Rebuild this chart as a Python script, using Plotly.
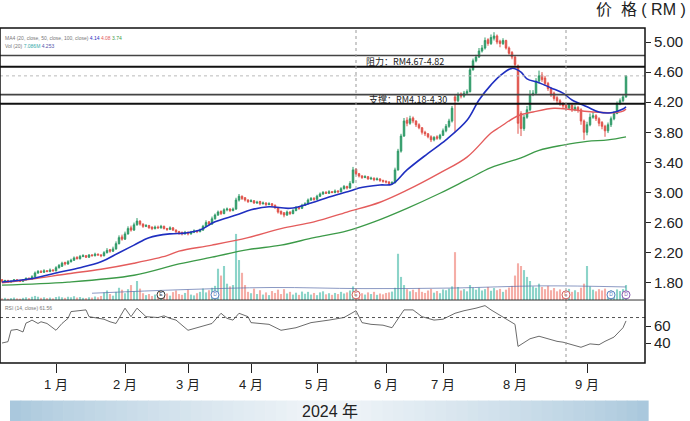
import plotly.graph_objects as go

# ---------------- data ----------------
open_ = [1.84,1.82,1.83,1.81,1.82,1.84,1.83,1.82,1.84,1.86,1.85,
         1.88,1.93,1.95,1.94,1.96,1.95,1.97,1.96,2.00,2.02,
         2.07,2.05,2.08,2.10,2.14,2.12,2.15,2.16,2.14,2.17,
         2.16,2.18,2.17,2.16,2.20,2.24,2.22,2.25,2.32,2.41,
         2.38,2.45,2.53,2.50,2.57,2.62,2.58,2.55,2.56,2.54,
         2.52,2.54,2.53,2.55,2.52,2.51,2.53,2.50,2.48,2.47,
         2.45,2.47,2.45,2.47,2.49,2.48,2.50,2.55,2.61,2.58,
         2.65,2.70,2.75,2.72,2.77,2.78,2.76,2.78,2.90,2.95,
         2.93,2.90,2.88,2.89,2.86,2.88,2.85,2.86,2.84,2.85,
         2.83,2.80,2.75,2.73,2.70,2.74,2.72,2.76,2.80,2.79,
         2.83,2.85,2.90,2.92,2.91,2.95,2.98,3.00,2.99,3.01,
         3.00,3.02,3.01,3.05,3.08,3.06,3.13,3.31,3.25,3.22,
         3.20,3.21,3.18,3.19,3.17,3.18,3.16,3.15,3.14,3.12,
         3.13,3.30,3.55,3.75,3.96,3.92,3.99,3.95,3.90,3.86,
         3.80,3.78,3.74,3.70,3.74,3.72,3.76,3.82,3.88,3.95,
         4.27,4.22,4.31,4.28,4.32,4.34,4.63,4.75,4.80,4.88,
         4.92,5.03,4.98,5.05,5.08,5.01,4.98,5.02,4.92,4.86,
         4.80,4.68,4.05,3.85,4.00,4.10,4.30,4.32,4.48,4.56,
         4.52,4.45,4.38,4.32,4.26,4.22,4.18,4.16,4.12,4.16,
         4.10,4.13,4.10,3.95,3.80,3.90,4.00,4.02,3.98,3.93,
         3.88,3.82,3.90,3.98,4.05,4.18,4.22,4.27]
high_ = [1.85,1.84,1.84,1.83,1.85,1.85,1.84,1.85,1.87,1.87,1.90,
         1.95,1.97,1.97,1.98,1.97,1.99,1.98,2.02,2.05,2.08,
         2.08,2.10,2.12,2.15,2.15,2.17,2.18,2.17,2.18,2.18,
         2.20,2.19,2.18,2.22,2.26,2.25,2.28,2.35,2.43,2.44,
         2.48,2.55,2.56,2.60,2.66,2.63,2.59,2.58,2.57,2.55,
         2.56,2.56,2.57,2.56,2.53,2.55,2.54,2.51,2.49,2.48,
         2.49,2.48,2.49,2.51,2.50,2.52,2.57,2.63,2.62,2.68,
         2.72,2.76,2.76,2.79,2.80,2.79,2.80,2.93,2.98,2.96,
         2.94,2.91,2.91,2.90,2.89,2.89,2.88,2.87,2.87,2.86,
         2.84,2.81,2.76,2.74,2.76,2.75,2.78,2.82,2.82,2.85,
         2.87,2.92,2.94,2.94,2.97,3.00,3.02,3.02,3.03,3.02,
         3.04,3.03,3.07,3.10,3.09,3.15,3.34,3.32,3.26,3.23,
         3.23,3.22,3.21,3.20,3.20,3.19,3.17,3.16,3.15,3.15,
         3.33,3.58,3.78,3.99,4.00,4.02,4.01,3.96,3.92,3.87,
         3.82,3.79,3.76,3.75,3.76,3.78,3.85,3.91,3.98,4.15,
         4.30,4.33,4.33,4.35,4.37,4.66,4.78,4.83,4.92,4.96,
         5.06,5.05,5.10,5.13,5.10,5.03,5.05,5.03,4.94,4.88,
         4.82,4.70,4.08,4.03,4.15,4.36,4.36,4.52,4.62,4.60,
         4.55,4.47,4.40,4.34,4.28,4.24,4.20,4.18,4.19,4.17,
         4.16,4.15,4.12,3.97,3.94,4.05,4.07,4.04,4.00,3.95,
         3.90,3.93,4.01,4.08,4.21,4.25,4.30,4.56]
low_ = [1.80,1.81,1.80,1.80,1.81,1.82,1.81,1.81,1.83,1.84,1.84,
        1.87,1.92,1.93,1.93,1.94,1.94,1.95,1.95,1.99,2.01,
        2.03,2.04,2.07,2.09,2.11,2.11,2.14,2.13,2.13,2.15,
        2.15,2.16,2.14,2.15,2.19,2.20,2.21,2.24,2.31,2.36,
        2.37,2.44,2.48,2.49,2.56,2.56,2.53,2.54,2.52,2.50,
        2.51,2.52,2.52,2.51,2.49,2.50,2.49,2.46,2.44,2.43,
        2.44,2.43,2.44,2.46,2.46,2.47,2.49,2.54,2.56,2.57,
        2.64,2.69,2.70,2.71,2.75,2.74,2.75,2.77,2.88,2.90,
        2.88,2.86,2.87,2.85,2.85,2.83,2.84,2.82,2.83,2.81,
        2.78,2.72,2.70,2.67,2.69,2.70,2.71,2.75,2.77,2.78,
        2.82,2.84,2.89,2.89,2.90,2.94,2.97,2.98,2.98,2.99,
        2.99,2.99,3.00,3.04,3.04,3.05,3.12,3.23,3.20,3.18,
        3.19,3.17,3.17,3.15,3.16,3.14,3.13,3.12,3.10,3.11,
        3.12,3.29,3.53,3.74,3.88,3.90,3.92,3.87,3.84,3.77,
        3.75,3.72,3.67,3.68,3.70,3.70,3.75,3.80,3.86,3.93,
        3.80,4.20,4.25,4.26,4.30,4.33,4.62,4.73,4.79,4.86,
        4.90,4.95,4.96,5.02,4.97,4.93,4.96,4.90,4.83,4.77,
        4.66,3.78,3.75,3.82,3.98,4.08,4.28,4.30,4.45,4.47,
        4.42,4.35,4.27,4.22,4.18,4.15,4.12,4.09,4.10,4.07,
        4.08,4.06,3.90,3.70,3.76,3.88,3.98,3.95,3.88,3.84,
        3.74,3.79,3.87,3.96,4.04,4.16,4.20,4.26]
close_ = [1.82,1.83,1.81,1.82,1.84,1.83,1.82,1.84,1.86,1.85,1.88,
          1.93,1.95,1.94,1.96,1.95,1.97,1.96,2.00,2.03,2.06,
          2.05,2.08,2.10,2.13,2.12,2.15,2.16,2.14,2.17,2.16,
          2.18,2.17,2.16,2.20,2.23,2.22,2.25,2.32,2.40,2.38,
          2.45,2.52,2.50,2.57,2.62,2.58,2.55,2.56,2.53,2.52,
          2.54,2.53,2.55,2.52,2.51,2.53,2.50,2.48,2.46,2.45,
          2.47,2.45,2.47,2.49,2.48,2.50,2.55,2.60,2.58,2.65,
          2.70,2.74,2.72,2.77,2.78,2.76,2.78,2.90,2.95,2.92,
          2.90,2.88,2.89,2.86,2.87,2.85,2.86,2.84,2.85,2.83,
          2.80,2.74,2.72,2.70,2.74,2.72,2.76,2.80,2.79,2.83,
          2.85,2.90,2.92,2.91,2.95,2.98,3.00,2.99,3.01,3.00,
          3.02,3.01,3.05,3.08,3.06,3.12,3.30,3.25,3.22,3.20,
          3.21,3.18,3.19,3.17,3.18,3.16,3.15,3.14,3.12,3.13,
          3.30,3.55,3.75,3.95,3.92,3.98,3.95,3.90,3.86,3.80,
          3.78,3.74,3.70,3.73,3.72,3.76,3.82,3.88,3.95,4.12,
          4.22,4.30,4.28,4.32,4.34,4.63,4.75,4.80,4.88,4.92,
          5.02,4.98,5.06,5.08,5.00,4.98,5.02,4.92,4.85,4.80,
          4.70,3.92,3.85,4.00,4.10,4.30,4.32,4.48,4.55,4.50,
          4.45,4.38,4.30,4.25,4.22,4.18,4.15,4.12,4.16,4.10,
          4.13,4.10,3.95,3.80,3.90,4.00,4.02,3.98,3.92,3.88,
          3.82,3.90,3.98,4.05,4.18,4.22,4.27,4.55]
volume = [0.6,0.8,0.5,0.7,0.9,0.6,0.5,0.8,1.0,0.7,1.2,
          1.5,1.2,0.8,1.0,0.7,0.9,0.6,1.1,1.3,1.0,
          0.8,1.2,1.0,1.4,0.9,1.1,0.8,0.7,1.0,0.9,
          1.3,1.0,1.5,2.8,3.5,2.2,1.6,3.0,4.5,3.8,
          2.5,4.0,5.5,3.2,7.0,4.2,2.5,1.8,2.2,1.5,
          2.0,1.4,3.0,1.8,2.4,1.6,2.9,3.5,2.2,1.9,
          2.6,3.8,2.0,1.7,2.5,3.0,4.2,2.8,3.6,4.5,
          5.2,11.5,9.0,12.5,6.0,5.0,5.5,24.3,14.7,10.0,
          5.5,3.0,2.5,4.2,2.2,3.6,2.0,2.8,1.8,3.3,
          2.6,3.8,2.2,4.0,2.4,3.0,2.0,2.7,1.9,3.1,
          2.3,3.0,2.0,2.6,1.8,2.8,3.2,2.1,2.5,1.9,
          2.6,2.2,3.0,2.4,2.8,3.5,5.0,4.2,3.0,2.5,
          2.0,2.8,2.2,3.0,1.9,2.4,2.1,2.6,2.8,3.1,
          4.5,17.0,8.5,5.5,4.0,3.2,3.8,2.9,4.4,3.0,
          2.6,3.5,4.1,2.7,3.3,2.5,3.9,3.6,4.2,5.0,
          17.6,4.8,3.5,4.0,3.2,5.5,4.5,3.8,4.6,3.5,
          4.0,4.8,3.4,4.4,3.6,4.1,3.0,3.8,4.6,5.2,
          9.0,13.5,12.5,11.0,8.5,7.0,5.0,4.5,6.0,4.8,
          4.0,5.2,3.6,4.4,3.2,3.9,2.8,3.5,4.1,3.0,
          3.6,2.9,4.5,6.0,12.5,5.0,3.8,3.2,4.0,3.5,
          4.2,3.0,3.6,2.8,3.9,3.3,4.0,5.5]

# moving averages (index, value)
ma20_idx = [0, 9, 19, 26, 33, 39, 44, 49, 56, 61, 66, 71, 78, 83, 89, 96, 103, 109,
            116, 119, 126, 130, 135, 142, 148, 155, 159, 163, 166, 170, 173, 175,
            179, 183, 187, 190, 195, 199, 203, 207, 208]
ma20 = [1.81, 1.85, 1.94, 2.00, 2.08, 2.20, 2.30, 2.40, 2.45, 2.46, 2.50, 2.61,
        2.70, 2.77, 2.81, 2.79, 2.86, 2.94, 3.02, 3.06, 3.10, 3.11, 3.30, 3.52,
        3.70, 3.96, 4.23, 4.43, 4.55, 4.65, 4.60, 4.51, 4.46, 4.39, 4.32, 4.23,
        4.14, 4.07, 4.06, 4.11, 4.14]
ma50_idx = [0, 10, 22, 33, 44, 55, 59, 70, 82, 93, 104, 115, 126, 135, 146, 155,
            163, 166, 172, 177, 184, 190, 197, 204, 207, 208]
ma50 = [1.80, 1.85, 1.92, 1.98, 2.06, 2.16, 2.22, 2.30, 2.40, 2.52, 2.61, 2.74,
        2.87, 3.03, 3.26, 3.47, 3.79, 3.87, 4.02, 4.07, 4.12, 4.10, 4.07, 4.06,
        4.08, 4.11]
ma100_idx = [0, 22, 44, 59, 70, 82, 93, 104, 115, 124, 135, 146, 155, 163, 173,
             179, 187, 195, 202, 208]
ma100 = [1.77, 1.81, 1.90, 2.05, 2.14, 2.24, 2.30, 2.40, 2.49, 2.61, 2.79, 2.99,
         3.17, 3.33, 3.46, 3.56, 3.63, 3.68, 3.70, 3.74]
volma_idx = [30, 60, 90, 120, 150, 180, 208]
volma = [2.5, 3.8, 4.6, 4.2, 4.4, 5.2, 4.8]

rsi_idx = [0, 2, 3, 5, 7, 8, 9, 10, 12, 13, 15, 17, 18, 20, 22, 23, 26, 28, 29, 32,
           34, 36, 38, 41, 43, 45, 48, 52, 54, 56, 58, 62, 64, 66, 68, 70, 73, 75,
           77, 79, 82, 83, 89, 93, 98, 103, 109, 114, 118, 120, 123, 127, 130, 134,
           137, 140, 144, 147, 151, 154, 158, 161, 163, 166, 169, 171, 172, 176,
           179, 182, 185, 187, 190, 193, 196, 199, 201, 204, 207, 208]
rsi = [40, 41.6, 55, 56, 53, 63.5, 65, 67, 63, 65, 63, 57, 55, 63, 69, 77, 78, 79,
       71, 69, 68, 65, 63, 81, 71, 81, 71, 70, 72, 69, 67, 55, 57, 59, 61, 63, 75,
       69, 67, 75, 71, 64, 62, 55, 58, 64, 67, 70, 78, 64, 62, 61, 58, 79, 79, 71,
       67, 68, 75, 78, 81, 84, 79, 73, 67, 62, 36, 45, 48, 45, 42, 41, 38, 35, 39,
       38, 42, 47, 58, 66]

month_idx = [18, 41, 62, 83, 105, 128, 147, 171, 195]
month_labels = ["1 月", "2 月", "3 月", "4 月", "5 月", "6 月", "7 月", "8 月", "9 月"]
price_ticks = [1.80, 2.20, 2.60, 3.00, 3.40, 3.80, 4.20, 4.60, 5.00]
rsi_ticks = [40, 60]
resistance = [4.67, 4.82]
support = [4.18, 4.30]
event_idx = [118, 188]
marker_idx = [53, 71, 118, 188, 203, 208]
marker_text = ["E", "D", "E", "E", "D", "D"]
marker_cols = ["#333333", "#5a7fc0", "#d06060", "#d06060", "#5a7fc0", "#8a5ab0"]

# ---------------- styling ----------------
GREEN = "#2f9a68"
RED = "#e0534b"
VOL_UP = "rgba(95,195,180,0.72)"
VOL_DN = "rgba(240,135,125,0.68)"
idx = list(range(len(close_)))
vol_colors = [VOL_UP if c >= o else VOL_DN for o, c in zip(open_, close_)]
FONT = "Liberation Sans, Noto Sans CJK SC"
CJK = "Noto Sans CJK SC"

fig = go.Figure()
fig.add_trace(go.Bar(x=idx, y=volume, marker=dict(color=vol_colors, line=dict(width=0)),
                     width=0.7, xaxis="x", yaxis="y", hoverinfo="skip"))
fig.add_trace(go.Scatter(x=volma_idx, y=volma, mode="lines", xaxis="x", yaxis="y",
                         line=dict(color="rgba(90,110,170,0.7)", width=1, shape="spline")))
fig.add_trace(go.Scatter(x=marker_idx, y=[1.9] * len(marker_idx), mode="markers+text",
                         xaxis="x", yaxis="y", text=marker_text, textposition="middle center",
                         textfont=dict(size=5, color=marker_cols, family="Liberation Sans"),
                         marker=dict(symbol="circle", size=8, color="white",
                                     line=dict(color=marker_cols, width=1))))
fig.add_trace(go.Candlestick(x=idx, open=open_, high=high_, low=low_, close=close_,
                             xaxis="x", yaxis="y3", whiskerwidth=0,
                             increasing=dict(line=dict(color=GREEN, width=1), fillcolor=GREEN),
                             decreasing=dict(line=dict(color=RED, width=1), fillcolor=RED)))
fig.add_trace(go.Scatter(x=ma100_idx, y=ma100, mode="lines", xaxis="x", yaxis="y3",
                         line=dict(color="#3c9a48", width=1.3, shape="spline")))
fig.add_trace(go.Scatter(x=ma50_idx, y=ma50, mode="lines", xaxis="x", yaxis="y3",
                         line=dict(color="#e45c5c", width=1.4, shape="spline")))
fig.add_trace(go.Scatter(x=ma20_idx, y=ma20, mode="lines", xaxis="x", yaxis="y3",
                         line=dict(color="#1f2fc0", width=1.6, shape="spline")))
fig.add_trace(go.Scatter(x=rsi_idx, y=rsi, mode="lines", xaxis="x", yaxis="y2",
                         line=dict(color="#5a5a5a", width=0.9)))

PB = 0.188  # boundary between price and RSI panels (paper)
shapes = []
for v, col, w in [(resistance[1], "#444", 1.6), (resistance[0], "#111", 2.0),
                  (support[1], "#444", 1.6), (support[0], "#111", 2.0)]:
    shapes.append(dict(type="line", xref="paper", x0=0, x1=1, yref="y3", y0=v, y1=v,
                       line=dict(color=col, width=w)))
shapes.append(dict(type="line", xref="paper", x0=0, x1=1, yref="y3", y0=close_[-1], y1=close_[-1],
                   line=dict(color="#bbbbbb", width=1, dash="dot")))
shapes.append(dict(type="line", xref="paper", x0=0, x1=1, yref="y2", y0=70, y1=70,
                   line=dict(color="#555", width=1, dash="dot")))
for e in event_idx:
    shapes.append(dict(type="line", xref="x", x0=e, x1=e, yref="paper", y0=0, y1=1,
                       line=dict(color="#999", width=1, dash="3px,3px")))
shapes.append(dict(type="rect", xref="paper", x0=0, x1=1, yref="paper", y0=0, y1=1,
                   line=dict(color="#111", width=1.5)))
shapes.append(dict(type="line", xref="paper", x0=0, x1=1, yref="paper", y0=PB, y1=PB,
                   line=dict(color="#333", width=1)))
# gradient band for the year label
n_str = 60
bx0, bx1 = 10 / 645, 648 / 645
by0, by1 = -0.175, -0.112
edge = (168, 199, 220)
mid = (242, 246, 249)
for k in range(n_str):
    t = (k + 0.5) / n_str
    f = (1 - abs(2 * t - 1)) ** 0.8
    col = tuple(int(edge[j] + (mid[j] - edge[j]) * f) for j in range(3))
    shapes.append(dict(type="rect", xref="paper", yref="paper",
                       x0=bx0 + (bx1 - bx0) * k / n_str, x1=bx0 + (bx1 - bx0) * (k + 1) / n_str + 0.001,
                       y0=by0, y1=by1, line=dict(width=0),
                       fillcolor="rgb(%d,%d,%d)" % col, layer="below"))

annotations = [
    dict(text="价  格 ( RM )", xref="paper", yref="paper", x=1.067, y=1.055,
         xanchor="right", yanchor="middle", showarrow=False,
         font=dict(family=FONT, size=16, color="#222")),
    dict(text="阻力：RM4.67-4.82", xref="x", yref="y3", x=120.5, y=4.745,
         xanchor="left", yanchor="middle", showarrow=False,
         font=dict(family=CJK, size=9, color="#222")),
    dict(text="支撑：RM4.18-4.30", xref="x", yref="y3", x=121.5, y=4.24,
         xanchor="left", yanchor="middle", showarrow=False,
         font=dict(family=CJK, size=9, color="#222")),
    dict(text="2024 年", xref="paper", yref="paper", x=330 / 645, y=(by0 + by1) / 2,
         xanchor="center", yanchor="middle", showarrow=False,
         font=dict(family=FONT, size=16, color="#222")),
    dict(text="MA4 (20, close, 50, close, 100, close) <span style='color:#1f2fc0'>4.14</span> "
              "<span style='color:#e45c5c'>4.08</span> <span style='color:#3c9a48'>3.74</span>",
         xref="paper", yref="paper", x=0.005, y=0.985, xanchor="left", yanchor="top",
         showarrow=False, font=dict(family="Liberation Sans", size=5, color="#777")),
    dict(text="Vol (20) <span style='color:#3aa'>7.086M</span> <span style='color:#55a'>4.253</span>",
         xref="paper", yref="paper", x=0.005, y=0.962, xanchor="left", yanchor="top",
         showarrow=False, font=dict(family="Liberation Sans", size=5, color="#777")),
    dict(text="RSI (14, close) 61.56", xref="paper", yref="paper", x=0.005, y=PB - 0.01,
         xanchor="left", yanchor="top", showarrow=False,
         font=dict(family="Liberation Sans", size=5, color="#777")),
]

tickfont = dict(family="Liberation Sans", size=15, color="#222")
fig.update_layout(
    width=690, height=421, margin=dict(l=0, r=45, t=28, b=58),
    paper_bgcolor="white", plot_bgcolor="white", showlegend=False,
    xaxis=dict(domain=[0, 1], range=[-0.67, 214.33], anchor="y2",
               tickvals=month_idx, ticktext=month_labels, ticks="outside", ticklen=9,
               tickwidth=1.2, tickcolor="#222", showgrid=False, zeroline=False,
               showline=False, rangeslider=dict(visible=False),
               tickfont=dict(family=FONT, size=13, color="#222")),
    yaxis=dict(domain=[PB, 1], range=[0, 100], visible=False, fixedrange=True),
    yaxis3=dict(overlaying="y", side="right", anchor="x", range=[1.571, 5.186],
                tickvals=price_ticks, ticktext=["%.2f" % v for v in price_ticks],
                ticks="outside", ticklen=5, tickcolor="#222", showgrid=False,
                zeroline=False, showline=False, tickfont=tickfont),
    yaxis2=dict(domain=[0, PB], range=[16.5, 90.6], side="right", anchor="x",
                tickvals=rsi_ticks, ticktext=[str(v) for v in rsi_ticks],
                ticks="outside", ticklen=5, tickcolor="#222", showgrid=False,
                zeroline=False, showline=False, tickfont=tickfont),
    shapes=shapes, annotations=annotations, bargap=0.2,
)
fig.write_html("out.html")
